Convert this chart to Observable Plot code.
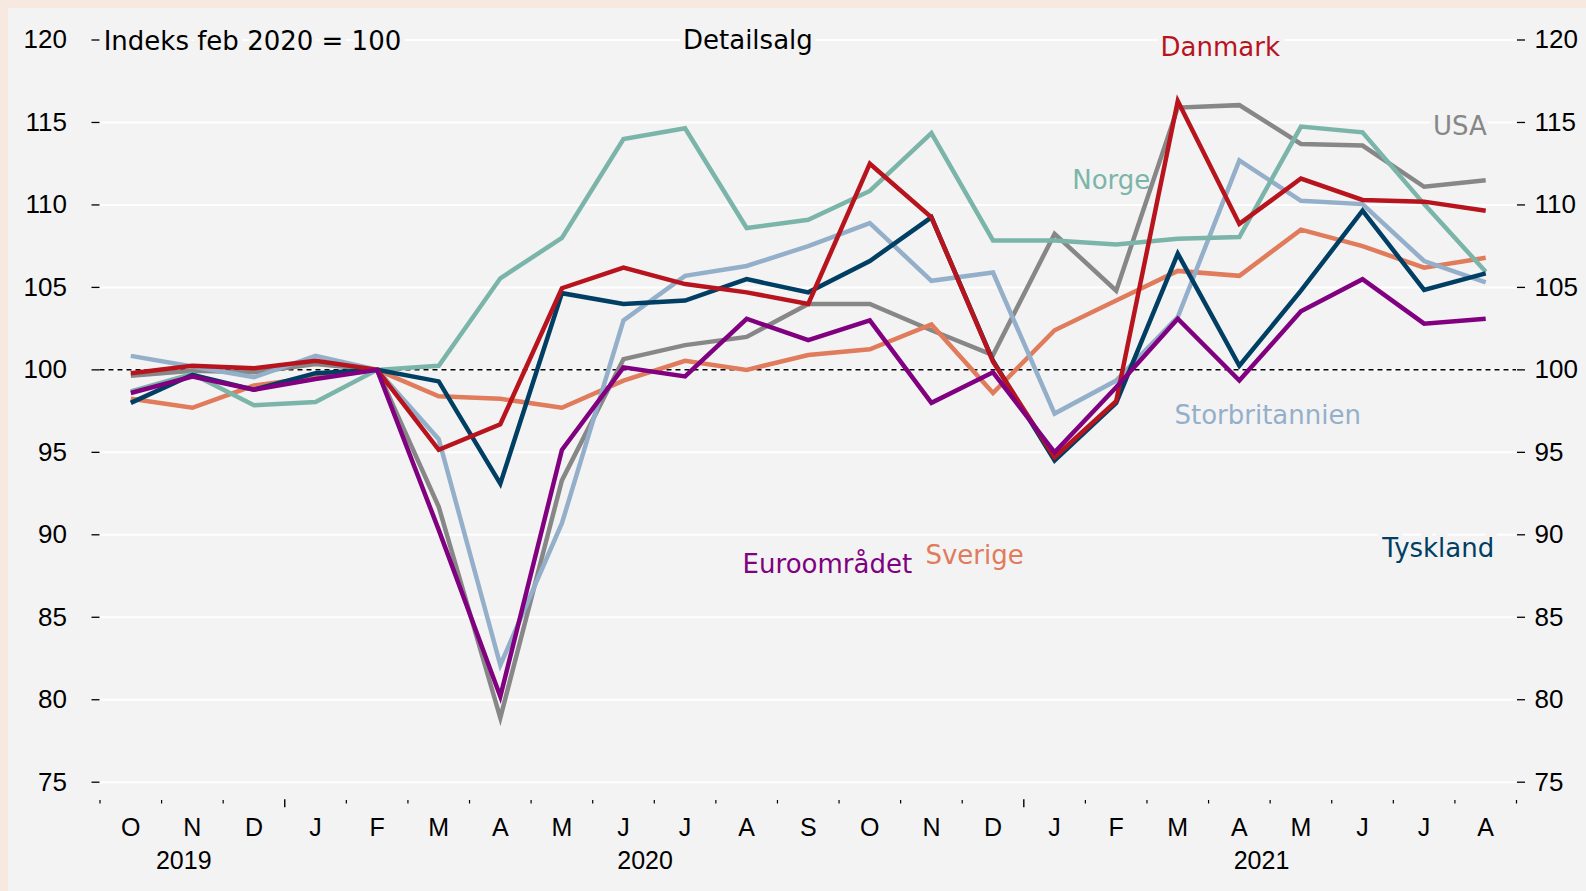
<!DOCTYPE html>
<html><head><meta charset="utf-8">
<script src="https://cdn.jsdelivr.net/npm/d3@7"></script>
<script src="https://cdn.jsdelivr.net/npm/@observablehq/plot@0.6"></script>
<style>
html,body{margin:0;padding:0;background:#f7e9df;width:1586px;height:891px;overflow:hidden}
#chart{position:absolute;left:8px;top:8px;width:1578px;height:883px;background:#f3f3f3}
#chart svg{display:block}
</style></head><body><div id="chart"></div>
<script>
const months = ["O","N","D","J","F","M","A","M","J","J","A","S","O","N","D","J","F","M","A","M","J","J","A"];
const years = ["2019","2020","2021"];
const yearPos = [0.86, 8.35, 18.36];
const yTicks = [75,80,85,90,95,100,105,110,115,120];

const danmark = [99.8,100.25,100.1,100.55,100,95.15,96.7,104.95,106.2,105.2,104.7,104.0,112.5,109.25,100.5,94.7,98.1,116.3,108.85,111.6,110.3,110.2,109.65];
const usa = [99.65,99.95,99.85,100.35,100,91.7,78.9,93.3,100.65,101.5,102.0,104.0,104.0,102.4,100.9,108.25,104.8,115.9,116.05,113.7,113.6,111.1,111.5];
const norge = [98.7,99.75,97.85,98.05,100,100.25,105.55,108.0,114.0,114.65,108.6,109.1,110.85,114.35,107.85,107.85,107.6,107.95,108.05,114.75,114.4,110.05,105.95];
const storbritannien = [100.85,100.2,99.55,100.85,100,95.8,82.1,90.7,103.0,105.7,106.3,107.5,108.9,105.4,105.9,97.35,99.35,103.2,112.7,110.25,110.05,106.6,105.3];
const tyskland = [98.0,99.7,98.8,99.8,100,99.3,93.1,104.65,104.0,104.2,105.5,104.7,106.6,109.25,100.55,94.5,98.0,107.05,100.25,104.8,109.65,104.85,105.85];
const sverige = [98.25,97.7,99.05,99.55,100,98.4,98.25,97.7,99.35,100.55,100.0,100.9,101.25,102.75,98.6,102.4,104.2,106.0,105.7,108.5,107.5,106.2,106.8];
const euroomraadet = [98.6,99.6,98.8,99.45,100,90.3,80.2,95.15,100.15,99.6,103.1,101.8,103.0,98.0,99.85,95.0,98.95,103.1,99.35,103.55,105.5,102.8,103.1];

const seriesNames = ["USA","Sverige","Storbritannien","Norge","Tyskland","Danmark","Euroområdet"];
const seriesValues = [usa, sverige, storbritannien, norge, tyskland, danmark, euroomraadet];
const seriesColors = ["#878787","#e07b5b","#94afca","#7bb5aa","#003f63","#b8141e","#800080"];

const labelTexts = ["Danmark","USA","Norge","Storbritannien","Tyskland","Sverige","Euroområdet"];
const labelColors = ["#b8141e","#878787","#7bb5aa","#94afca","#003f63","#e07b5b","#800080"];
const labelX = [17.69, 21.58, 15.92, 18.46, 21.23, 13.70, 11.31];
const labelY = [119.55, 114.76, 111.5, 97.24, 89.17, 88.74, 88.18];

const unitText = ["Indeks feb 2020 = 100"];
const unitX = [-0.44];
const unitY = [119.9];
const titleText = ["Detailsalg"];
const titleX = [10.02];
const titleY = [119.93];

const boundaries = d3.range(24).map(i => i - 0.5);
const majorTicks = [2.5, 14.5];
const minorTicks = boundaries.filter(b => !majorTicks.includes(b));

const labels = labelTexts.map((t, k) => ({t, x: labelX[k], y: labelY[k], c: labelColors[k]}));
const unitRows = unitText.map((t, k) => ({t, x: unitX[k], y: unitY[k]}));
const titleRows = titleText.map((t, k) => ({t, x: titleX[k], y: titleY[k]}));
const squareFont = "DejaVu Sans, Verdana, sans-serif";
const halo = {stroke: "#f3f3f3", strokeWidth: 10, paintOrder: "stroke", lineAnchor: "middle", fontSize: 26, fontFamily: squareFont};

const lineMarks = seriesValues.map((vals, k) =>
  Plot.line(vals, {x: (d, i) => i, y: d => d, stroke: seriesColors[k], strokeWidth: 4.5,
    strokeLinejoin: "miter", strokeLinecap: "butt", strokeMiterlimit: 6}));

const chart = Plot.plot({
  width: 1578, height: 883,
  marginLeft: 91.5, marginRight: 70, marginTop: 31.5, marginBottom: 109.3,
  style: {background: "#f3f3f3", fontFamily: "Liberation Sans, Arial, sans-serif", fontSize: "25px", color: "#000"},
  x: {domain: [-0.5, 22.5]},
  y: {domain: [75, 120]},
  marks: [
    Plot.gridY(yTicks, {stroke: "#ffffff", strokeOpacity: 1, strokeWidth: 2}),
    Plot.ruleY([100], {stroke: "#000", strokeWidth: 1.5, strokeDasharray: "5,4"}),
    Plot.axisY(yTicks, {anchor: "left", tickSize: 8, tickPadding: 25, label: null, fontSize: 26, strokeWidth: 1.3}),
    Plot.axisY(yTicks, {anchor: "right", tickSize: 8, tickPadding: 10, label: null, fontSize: 26, strokeWidth: 1.3}),
    Plot.axisX(minorTicks, {tickSize: 3.5, dy: 18.3, tickFormat: () => "", label: null, strokeWidth: 1.2}),
    Plot.axisX(majorTicks, {tickSize: 8, dy: 17.6, tickFormat: () => "", label: null, strokeWidth: 1.4}),
    Plot.axisX(d3.range(23), {tickSize: 0, tickPadding: 36, tickFormat: i => months[i], label: null, fontSize: 25}),
    Plot.axisX(yearPos, {tickSize: 0, tickPadding: 69, tickFormat: d => years[yearPos.indexOf(d)], label: null, fontSize: 25}),
    Plot.text(unitRows, {x: "x", y: "y", text: "t", textAnchor: "start", fill: "#000", ...halo}),
    Plot.text(titleRows, {x: "x", y: "y", text: "t", textAnchor: "middle", fill: "#000", ...halo}),
    Plot.text(labels, {x: "x", y: "y", text: "t", fill: "c", ...halo}),
    ...lineMarks
  ]
});
document.getElementById("chart").appendChild(chart);
</script></body></html>
